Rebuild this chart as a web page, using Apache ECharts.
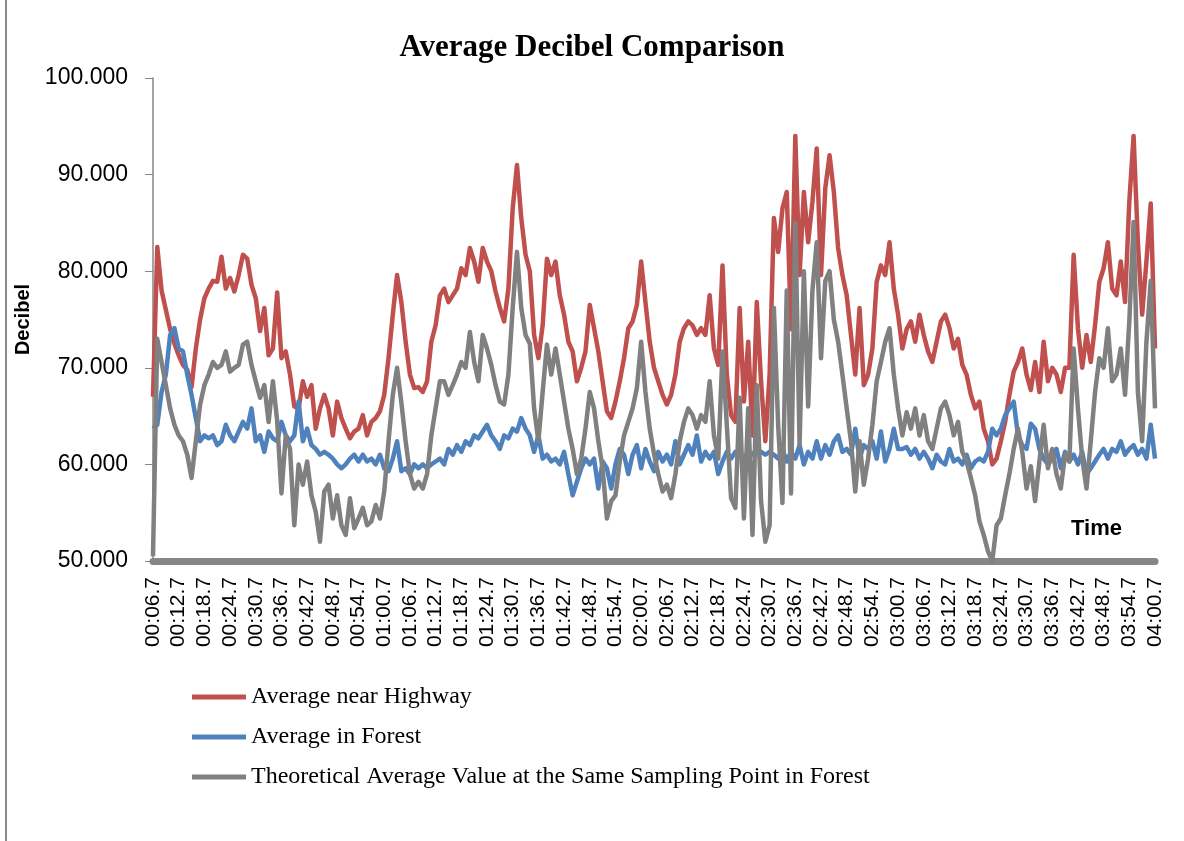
<!DOCTYPE html>
<html>
<head>
<meta charset="utf-8">
<title>Average Decibel Comparison</title>
<script src="https://cdn.jsdelivr.net/npm/echarts@6/dist/echarts.min.js"></script>
<style>
html, body { margin: 0; padding: 0; background: #fff; }
#chart { width: 1184px; height: 841px; }
</style>
</head>
<body>
<div id="chart"></div>
<script>
// one reading per second, starting at 00:06.7
var highway = [
  67, 82.5, 78, 76, 74, 72.5, 71.3, 70.3, 69.8, 68,
  72, 75, 77.2, 78.2, 79, 78.9, 81.5, 78.2, 79.3, 77.9,
  79.6, 81.7, 81.3, 78.6, 77.2, 73.8, 76.2, 71.3, 72, 77.8,
  71, 71.7, 69.3, 66, 65.8, 68.6, 67, 68.2, 63.7, 65.8,
  67.2, 65.8, 63, 66.5, 64.8, 63.7, 62.7, 63.4, 63.7, 65.1,
  63, 64.4, 64.8, 65.5, 67.2, 71, 75.5, 79.6, 76.8, 72.7,
  69.3, 67.9, 68, 67.5, 68.6, 72.7, 74.4, 77.5, 78.2, 76.8,
  77.5, 78.2, 80.3, 79.6, 82.4, 81, 78.9, 82.4, 81, 80,
  77.9, 76.2, 74.8, 78.2, 86.5, 91, 85.5, 81.7, 80, 73.4,
  71, 74.4, 81.3, 79.6, 81, 77.5, 75.5, 72.7, 71.7, 68.6,
  70, 71.7, 76.5, 74.1, 71.7, 68.6, 65.5, 64.8, 66.5, 68.6,
  71, 74.1, 74.8, 76.5, 81, 76.8, 72.7, 70, 68.6, 67.2,
  66.2, 67.2, 69.3, 72.7, 74.1, 74.8, 74.4, 73.4, 74.1, 73.4,
  77.5, 72, 70.3, 80.6, 69.3, 65.1, 64.4, 76.2, 66.5, 72.7,
  63, 76.8, 68.6, 62.4, 69.3, 85.5, 82, 86.5, 88.2, 74,
  94, 79.6, 88.2, 83, 87.2, 92.7, 79.6, 88.6, 92, 88.2,
  82.4, 79.6, 77.5, 73.4, 69.3, 76.2, 68.2, 69.3, 72, 78.9,
  80.6, 79.6, 83, 78.2, 75.5, 72, 74, 74.8, 72.7, 75.5,
  73.4, 71.7, 70.6, 72.7, 74.8, 75.5, 74.1, 72, 73, 70.3,
  69.3, 67.2, 65.8, 66.5, 63.7, 62.4, 60, 60.6, 62.4, 64.4,
  67.2, 69.6, 70.6, 72, 69.3, 67.7, 70.6, 67.5, 72.7, 68.6,
  70, 69.3, 67.5, 70, 70, 81.7, 74.1, 70, 73.4, 70.6,
  74.4, 78.9, 80.3, 83, 78.2, 77.5, 81, 76.8, 87.2, 94,
  83, 75.5, 81, 87, 72
];
var forest = [
  63.7, 64.1, 67.5, 69.3, 73.4, 74.1, 72, 71.7, 69.3, 67.2,
  64.8, 62.4, 63, 62.7, 63, 62, 62.4, 64.1, 63, 62.4,
  63.4, 64.4, 63.7, 65.8, 62.4, 63, 61.3, 63.4, 62.7, 62.4,
  64.4, 63, 62.4, 63, 66.5, 62.4, 63.7, 62, 61.6, 61,
  61.3, 61, 60.6, 60, 59.6, 60, 60.6, 61, 60.3, 61,
  60.3, 60.6, 60, 61, 59.6, 59.3, 60.6, 62.4, 59.3, 59.6,
  59, 60, 59.6, 60, 59.6, 60, 60.3, 60.6, 60, 61.6,
  61, 62, 61.3, 62.4, 62, 63, 62.7, 63.4, 64.1, 63,
  62.4, 61.6, 63, 62.7, 63.7, 63.4, 64.8, 63.7, 63, 61.3,
  63, 60.6, 61, 60.3, 60.6, 60, 61.3, 59, 56.8, 58.2,
  59.6, 60.6, 60, 60.6, 57.5, 60.3, 59.6, 57.5, 60, 61.6,
  61, 59, 61, 62, 59.6, 61.6, 60.3, 59.3, 61.3, 60.3,
  61, 60, 62.4, 60, 61, 62, 61, 63, 60.3, 61.3,
  60.6, 61.3, 59, 60.3, 61.3, 60.6, 61.3, 61, 60.6, 61.3,
  61, 61.6, 61.3, 61, 61.3, 61, 60.6, 61.6, 60.3, 61.3,
  60.6, 62, 60, 61.3, 60.6, 62.4, 60.6, 62, 61, 62.4,
  63, 61.3, 61.6, 61, 63.7, 60.6, 62, 61.6, 62.4, 60.6,
  63.4, 60.3, 61.6, 63.7, 61.6, 61.6, 61.8, 61, 61.6, 60.6,
  61.3, 60.6, 59.6, 61, 60.3, 60, 61.6, 60.3, 60.6, 60,
  61, 59.6, 60.3, 60.6, 60.3, 61.3, 63.7, 63, 63.7, 65.1,
  65.8, 66.5, 63, 62, 61.6, 64.2, 63.7, 61.6, 60.6, 60,
  60.6, 61.6, 59.6, 61.3, 60.3, 61, 60, 61.3, 59, 59.6,
  60.3, 61, 61.6, 60.6, 61.6, 61.3, 62.4, 61, 61.6, 62,
  61, 61.6, 60.6, 64.1, 60.6
];
var theory = [
  50.5, 73, 70.6, 68.2, 65.8, 64.1, 63, 62.4, 61, 58.6,
  62.4, 66.2, 68.2, 69.3, 70.6, 70, 70.3, 71.7, 69.6, 70,
  70.3, 72.4, 72.7, 70.3, 68.6, 66.9, 68.2, 64.4, 68.6, 64.5,
  57, 63, 61.6, 53.7, 60, 57.9, 60.3, 56.8, 55.1, 52,
  57.2, 57.9, 54.4, 56.8, 53.7, 52.7, 56.5, 53.4, 54.4, 55.5,
  53.7, 54.1, 55.8, 54.4, 57.2, 62.4, 67.2, 70, 66.4, 62.4,
  59, 57.5, 58.2, 57.5, 59, 63, 65.8, 68.6, 68.6, 67.2,
  68.2, 69.3, 70.6, 70, 73.7, 70.6, 68.6, 73.4, 72, 70.3,
  68.2, 66.5, 66.2, 69.3, 76.2, 82, 76.2, 73.4, 72.5, 65.8,
  62.4, 67.5, 72.4, 69.3, 72, 69.3, 66.5, 63.7, 61.6, 59,
  60.6, 63.7, 67.5, 65.8, 62.4, 59.6, 54.4, 56.2, 56.8, 60.3,
  63, 64.4, 65.8, 67.9, 72.7, 67.5, 63.7, 61.1, 59, 57.2,
  57.9, 56.5, 59, 62.4, 64.4, 65.8, 65.1, 63.7, 65.1, 64.4,
  68.6, 63, 60.6, 71.7, 64.1, 56.5, 55.5, 66.9, 54.4, 65.8,
  52.7, 68.2, 56.2, 52, 53.7, 76.2, 64, 56, 78, 57,
  85, 62, 80, 66, 78, 83, 71, 79, 80, 75,
  72.7, 69.3, 65.8, 62.4, 57.2, 62.4, 57.9, 60.6, 64.1, 68.6,
  70.6, 72.7, 74.1, 69.3, 65.8, 63, 65.4, 63.7, 65.8, 63,
  65.1, 62.4, 61.6, 63.7, 65.8, 66.5, 65.1, 63, 64.4, 61.3,
  60.3, 58.6, 56.8, 54.1, 52.7, 51, 50, 53.7, 54.4, 56.8,
  59, 61.6, 63.7, 61.3, 57.5, 59.8, 56.2, 60.3, 64.1, 59.6,
  61.6, 59, 57.5, 61, 60.3, 72, 65.8, 60.6, 57.5, 62.4,
  67.5, 71, 70, 74.1, 68.6, 69.3, 72, 67.2, 74.8, 85.1,
  67.5, 62.4, 72.7, 79, 65.8
];
var seriesNames = [
  "Average near Highway",
  "Average in Forest",
  "Theoretical Average Value at the Same Sampling Point in Forest"
];
var colors = ["#C0504D", "#4F81BD", "#808080"];

// time labels mm:ss.s
var times = [];
for (var i = 0; i < highway.length; i++) {
  var t = 67 + i * 10; // tenths
  var m = Math.floor(t / 600);
  var s = t - m * 600;
  times.push((m < 10 ? "0" : "") + m + ":" + (s < 100 ? "0" : "") + (s / 10).toFixed(1));
}

var myChart = echarts.init(document.getElementById("chart"));
var option = {
  animation: false,
  backgroundColor: "#fff",
  color: colors,
  title: {
    text: "Average Decibel Comparison",
    left: "center",
    top: 27,
    textStyle: { fontFamily: "Liberation Serif", fontSize: 31, fontWeight: "bold", color: "#000" },
  },
  legend: {
    orient: "vertical",
    left: 192,
    top: 685,
    padding: 0,
    icon: "rect",
    itemWidth: 54,
    itemHeight: 5,
    itemGap: 16,
    textStyle: { fontFamily: "Liberation Serif", fontSize: 24, color: "#000" },
    data: seriesNames,
  },
  grid: { left: 153, right: 29, top: 78, bottom: 280, containLabel: false },
  xAxis: {
    type: "category",
    data: times,
    boundaryGap: false,
    axisLine: { lineStyle: { color: "#868686", width: 7 } },
    axisTick: { show: false },
    axisLabel: {
      interval: 5,
      rotate: 90,
      margin: 16,
      fontFamily: "Liberation Sans",
      fontSize: 21,
      color: "#000",
    },
    splitLine: { show: false },
  },
  yAxis: {
    type: "value",
    min: 50,
    max: 100,
    interval: 10,
    name: "Decibel",
    nameLocation: "middle",
    nameRotate: 90,
    nameGap: 113,
    nameTextStyle: { fontFamily: "Liberation Sans", fontWeight: "bold", fontSize: 20, color: "#000" },
    axisLine: { show: true, lineStyle: { color: "#868686", width: 1.5 } },
    axisTick: { show: true, length: 8, lineStyle: { color: "#868686" } },
    axisLabel: {
      margin: 25,
      fontFamily: "Liberation Sans",
      fontSize: 23,
      color: "#000",
      formatter: function (v) {
        return v.toFixed(3);
      },
    },
    splitLine: { show: false },
  },
  graphic: [
    {
      type: "line",
      shape: { x1: 6, y1: 0, x2: 6, y2: 841 },
      style: { stroke: "#8a8a8a", lineWidth: 2 },
    },
    {
      type: "text",
      left: 1071,
      top: 518,
      style: { text: "Time", font: 'bold 22px "Liberation Sans"', fill: "#000" },
    },
  ],
  series: [
    { name: seriesNames[0], type: "line", data: highway },
    { name: seriesNames[1], type: "line", data: forest },
    { name: seriesNames[2], type: "line", data: theory },
  ].map(function (s) {
    s.symbol = "none";
    s.lineStyle = { width: 4.5, join: "round" };
    return s;
  }),
};
myChart.setOption(option);
window.addEventListener("resize", function () {
  myChart.resize();
});
</script>
</body>
</html>
